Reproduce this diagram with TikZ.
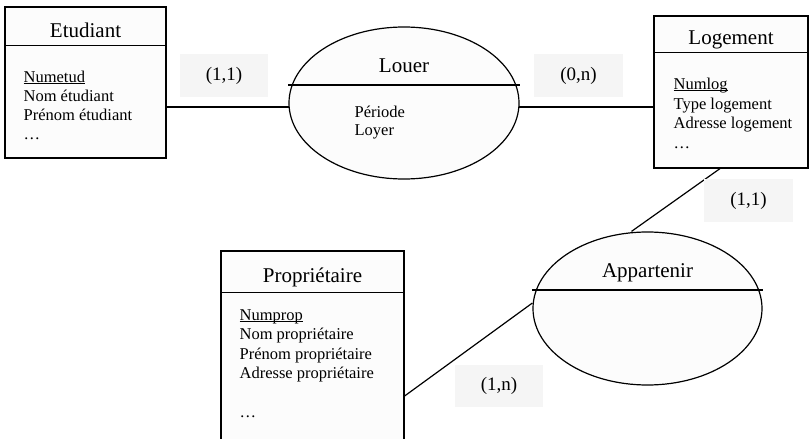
\documentclass[tikz,border=0pt]{standalone}
\usepackage{fontspec}
\setmainfont{Liberation Serif}
\usetikzlibrary{shapes.geometric,calc}
\definecolor{boxfill}{HTML}{FCFCFC}
\definecolor{labfill}{HTML}{F5F5F5}
\newcommand\keyattr[1]{\underline{\smash{#1}}}
\begin{document}
\begin{tikzpicture}[x=1pt,y=-1pt,line width=1.2pt,
  entity/.style={draw, fill=boxfill, rectangle, inner sep=0pt},
  relation/.style={draw, fill=boxfill, ellipse, inner sep=0pt},
  card/.style={fill=labfill, rectangle, inner sep=0pt, font=\fontsize{19}{22}\selectfont},
  title/.style={anchor=base, inner sep=0pt, font=\fontsize{21}{25}\selectfont},
  attr/.style={anchor=base west, inner sep=0pt, font=\fontsize{16.5}{19}\selectfont},
  link/.style={draw, line width=1.2pt}]
\fill[white] (0,0) rectangle (809,439);
\useasboundingbox (0,0) rectangle (809,439);
\clip (0,0) rectangle (809,439);

% entities
\node[entity, minimum width=161, minimum height=151] (etu) at (85.5,82.5) {};
\draw ($(etu.north west)+(0,39)$) -- ($(etu.north east)+(0,39)$);
\node[entity, minimum width=154, minimum height=152] (loge) at (731,92) {};
\draw ($(loge.north west)+(0,37)$) -- ($(loge.north east)+(0,37)$);
\node[entity, minimum width=183, minimum height=209] (prop) at (312.5,355.5) {};
\draw ($(prop.north west)+(0,42)$) -- ($(prop.north east)+(0,42)$);

% relations
\node[relation, minimum width=230, minimum height=152] (louer) at (404,103) {};
\draw ($(louer.west)+(0,-18)$) -- ($(louer.east)+(0,-18)$);
\node[relation, minimum width=229, minimum height=153] (app) at (647.5,308.5) {};
\draw ($(app.west)+(0,-18.5)$) -- ($(app.east)+(0,-18.5)$);

% texts
\node[title] (etuT) at (85.5,37) {Etudiant};
\node[attr] (etu1) at (23,82) {\keyattr{Numetud}};
\node[attr] (etu2) at (23,101) {Nom étudiant};
\node[attr] (etu3) at (23,120) {Prénom étudiant};
\node[attr] (etu4) at (23,139) {…};

\node[title] (logeT) at (731,45) {Logement};
\node[attr] (loge1) at (673,89) {\keyattr{Numlog}};
\node[attr] (loge2) at (673,109) {Type logement};
\node[attr] (loge3) at (673,128.5) {Adresse logement};
\node[attr] (loge4) at (673,148) {…};

\node[title] (propT) at (312.5,282) {Propriétaire};
\node[attr] (prop1) at (239,320) {\keyattr{Numprop}};
\node[attr] (prop2) at (239,339.5) {Nom propriétaire};
\node[attr] (prop3) at (239,359) {Prénom propriétaire};
\node[attr] (prop4) at (239,378.5) {Adresse propriétaire};
\node[attr] (prop5) at (239,417.5) {…};

\node[title] (louerT) at (404,72) {Louer};
\node[attr] (louer1) at (354,117.5) {Période};
\node[attr] (louer2) at (354,135) {Loyer};

\node[title] (appT) at (647.5,277) {Appartenir};

% connectors
\draw[link] (louer.182.5) -- (louer.182.5 -| etu.east);
\draw[link] (louer.-2.5) -- (louer.-2.5 -| loge.west);
\draw[link] ($(loge.south)+(-11,0)$) -- ($(app.north)+(-16,0)$);
\draw[link] ($(prop.east)+(0,40.5)$) -- ($(app.west)+(0,-5.5)$);

% cardinalities
\node[card, minimum width=88, minimum height=43] (c1) at (224,75.5) {(1,1)};
\node[card, minimum width=89, minimum height=43] (c2) at (578.5,75.5) {(0,n)};
\node[card, minimum width=89, minimum height=43] (c3) at (748.5,200.5) {(1,1)};
\node[card, minimum width=88, minimum height=42] (c4) at (499,386) {(1,n)};
\end{tikzpicture}
\end{document}
